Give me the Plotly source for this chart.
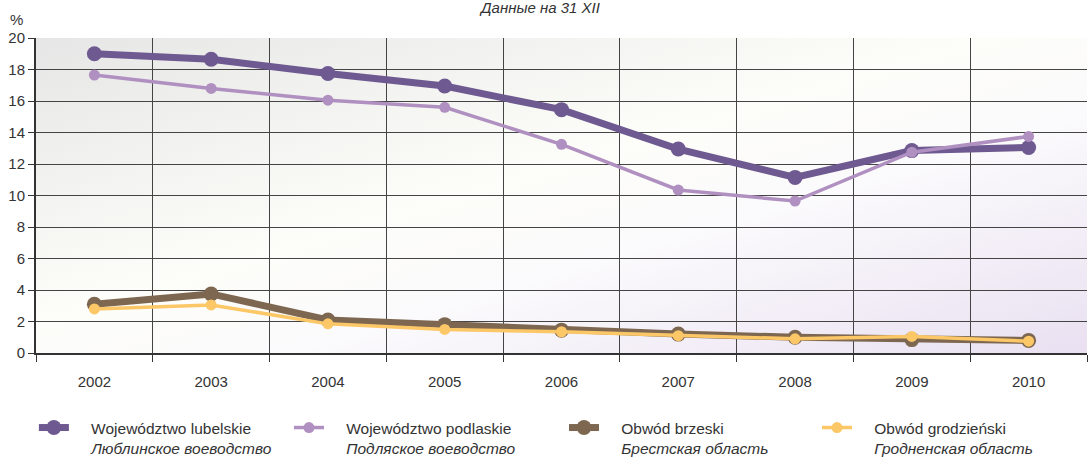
import plotly.graph_objects as go
import base64

years = ["2002", "2003", "2004", "2005", "2006", "2007", "2008", "2009", "2010"]
lubelskie = [19.0, 18.65, 17.75, 16.95, 15.45, 12.95, 11.15, 12.85, 13.05]
podlaskie = [17.65, 16.8, 16.05, 15.6, 13.25, 10.35, 9.65, 12.75, 13.75]
brzeski = [3.1, 3.75, 2.1, 1.8, 1.45, 1.2, 1.0, 0.85, 0.8]
grodzienski = [2.8, 3.05, 1.85, 1.5, 1.35, 1.1, 0.9, 1.05, 0.75]

pad = "\u00a0" * 4
names = [
    pad + "Województwo lubelskie<br>" + pad + "<i>Люблинское воеводство</i>",
    pad + "Województwo podlaskie<br>" + pad + "<i>Подляское воеводство</i>",
    pad + "Obwód brzeski<br>" + pad + "<i>Брестская область</i>",
    pad + "Obwód grodzieński<br>" + pad + "<i>Гродненская область</i>",
]
colors = ["#6e5991", "#b090c0", "#7d6750", "#fcc767"]
widths = [7, 3.5, 7, 3.5]
msizes = [15, 11, 15, 11]
series = [lubelskie, podlaskie, brzeski, grodzienski]
legend_ids = ["legend", "legend2", "legend3", "legend4"]
legend_x = [-0.002, 0.2407, 0.5024, 0.7431]

fig = go.Figure()
for name, vals, c, w, ms, lg in zip(names, series, colors, widths, msizes, legend_ids):
    fig.add_trace(go.Scatter(
        x=years, y=vals, mode="lines+markers", name=name,
        line=dict(color=c, width=w),
        marker=dict(color=c, size=ms),
        legend=lg,
    ))

svg = """<svg xmlns='http://www.w3.org/2000/svg' width='1000' height='300' preserveAspectRatio='none'>
<defs><linearGradient id='g' x1='0' y1='0' x2='1' y2='1'>
<stop offset='0' stop-color='#e6e6e6'/>
<stop offset='0.45' stop-color='#fdfdf9'/>
<stop offset='0.62' stop-color='#fbfafc'/>
<stop offset='1' stop-color='#e9e0f1'/>
</linearGradient></defs>
<rect width='1000' height='300' fill='url(#g)'/></svg>"""
src = "data:image/svg+xml;base64," + base64.b64encode(svg.encode()).decode()

legend_style = dict(
    orientation="h", xanchor="left", y=-0.184, yanchor="top",
    valign="top", font=dict(size=15.5, color="#333333"), itemwidth=30,
    bgcolor="rgba(0,0,0,0)",
)

fig.update_layout(
    width=1088, height=460,
    margin=dict(l=36, r=1, t=38, b=107, autoexpand=False),
    paper_bgcolor="white", plot_bgcolor="rgba(0,0,0,0)",
    font=dict(family="Liberation Sans, Arial, sans-serif", size=15, color="#333333"),
    showlegend=True,
    images=[dict(source=src, xref="paper", yref="paper", x=0, y=1, sizex=1, sizey=1,
                 sizing="stretch", layer="below", xanchor="left", yanchor="top")],
    annotations=[
        dict(text="<i>Данные на 31 XII</i>", xref="paper", yref="paper", x=0.4795, y=1.0,
             yshift=20, xanchor="center", yanchor="bottom", showarrow=False,
             font=dict(size=15, color="#333333")),
        dict(text="%", xref="paper", yref="paper", x=0, xshift=-28, y=1.0, yshift=8,
             xanchor="left", yanchor="bottom", showarrow=False,
             font=dict(size=15, color="#333333")),
    ],
)
for lg, lx in zip(legend_ids, legend_x):
    fig.update_layout({lg: dict(legend_style, x=lx)})

fig.update_xaxes(
    type="category", range=[-0.5, 8.5], tickson="boundaries",
    showgrid=True, gridcolor="#444444", gridwidth=1,
    ticks="outside", ticklen=7, tickcolor="#333333",
    showline=True, linecolor="#333333", linewidth=2,
    ticklabelstandoff=14, tickfont=dict(size=15, color="#333333"),
)
fig.update_yaxes(
    range=[0, 20], dtick=2, showgrid=True, gridcolor="#444444", gridwidth=1,
    ticks="outside", ticklen=6, tickcolor="#333333",
    showline=True, linecolor="#333333", linewidth=2, zeroline=False,
    tickfont=dict(size=15, color="#333333"),
)

post = ("document.body.style.margin='0';document.body.style.padding='0';"
        "Plotly.relayout('{plot_id}', {width:1088, height:460});")
fig.write_html("out.html", post_script=post, config={"displayModeBar": False})
